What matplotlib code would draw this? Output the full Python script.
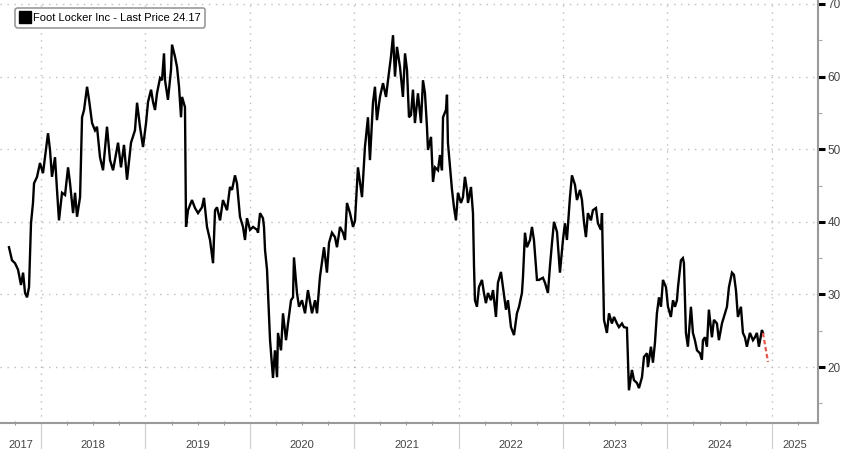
import matplotlib
matplotlib.use("Agg")
from matplotlib import pyplot as plt
from matplotlib.lines import Line2D
from matplotlib.ticker import MultipleLocator
import matplotlib.transforms as mtransforms

plt.rcParams['font.family'] = ['Liberation Sans', 'DejaVu Sans']

# weekly-ish closes (decimal year, price)
dates = [2017.693, 2017.722, 2017.751, 2017.780, 2017.808, 2017.828, 2017.847, 2017.866, 2017.885, 2017.904,
         2017.923, 2017.933, 2017.962, 2017.990, 2018.019, 2018.067, 2018.086, 2018.105, 2018.134, 2018.153,
         2018.172, 2018.201, 2018.230, 2018.259, 2018.278, 2018.307, 2018.326, 2018.345, 2018.374, 2018.393,
         2018.412, 2018.441, 2018.460, 2018.489, 2018.517, 2018.536, 2018.565, 2018.594, 2018.632, 2018.661,
         2018.690, 2018.738, 2018.766, 2018.795, 2018.824, 2018.862, 2018.900, 2018.920, 2018.948, 2018.977,
         2019.006, 2019.025, 2019.054, 2019.073, 2019.092, 2019.111, 2019.140, 2019.159, 2019.178, 2019.188,
         2019.216, 2019.245, 2019.255, 2019.284, 2019.303, 2019.322, 2019.341, 2019.351, 2019.379, 2019.389,
         2019.408, 2019.446, 2019.475, 2019.504, 2019.542, 2019.561, 2019.590, 2019.619, 2019.648, 2019.667,
         2019.686, 2019.715, 2019.743, 2019.782, 2019.810, 2019.830, 2019.858, 2019.877, 2019.906, 2019.935,
         2019.954, 2019.973, 2020.002, 2020.031, 2020.069, 2020.079, 2020.098, 2020.126, 2020.136, 2020.146,
         2020.165, 2020.194, 2020.222, 2020.241, 2020.261, 2020.270, 2020.299, 2020.318, 2020.347, 2020.366,
         2020.395, 2020.414, 2020.423, 2020.452, 2020.471, 2020.500, 2020.529, 2020.557, 2020.596, 2020.625,
         2020.644, 2020.672, 2020.711, 2020.739, 2020.759, 2020.787, 2020.816, 2020.835, 2020.864, 2020.893,
         2020.912, 2020.931, 2020.960, 2020.989, 2021.008, 2021.036, 2021.075, 2021.103, 2021.132, 2021.151,
         2021.180, 2021.199, 2021.218, 2021.247, 2021.276, 2021.305, 2021.324, 2021.352, 2021.372, 2021.391,
         2021.410, 2021.439, 2021.467, 2021.487, 2021.506, 2021.525, 2021.544, 2021.563, 2021.582, 2021.611,
         2021.640, 2021.659, 2021.678, 2021.697, 2021.707, 2021.736, 2021.755, 2021.774, 2021.803, 2021.822,
         2021.841, 2021.851, 2021.879, 2021.889, 2021.898, 2021.918, 2021.937, 2021.956, 2021.975, 2021.994,
         2022.023, 2022.042, 2022.061, 2022.080, 2022.090, 2022.119, 2022.138, 2022.148, 2022.157, 2022.176,
         2022.195, 2022.224, 2022.243, 2022.262, 2022.282, 2022.310, 2022.330, 2022.358, 2022.377, 2022.406,
         2022.425, 2022.454, 2022.473, 2022.502, 2022.531, 2022.559, 2022.579, 2022.607, 2022.617, 2022.636,
         2022.655, 2022.684, 2022.703, 2022.722, 2022.751, 2022.770, 2022.808, 2022.828, 2022.856, 2022.875,
         2022.895, 2022.914, 2022.943, 2022.971, 2023.000, 2023.019, 2023.038, 2023.067, 2023.086, 2023.115,
         2023.134, 2023.163, 2023.182, 2023.201, 2023.220, 2023.239, 2023.268, 2023.287, 2023.316, 2023.335,
         2023.364, 2023.374, 2023.393, 2023.421, 2023.441, 2023.469, 2023.489, 2023.517, 2023.536, 2023.565,
         2023.584, 2023.613, 2023.623, 2023.632, 2023.661, 2023.680, 2023.709, 2023.728, 2023.757, 2023.776,
         2023.805, 2023.814, 2023.843, 2023.862, 2023.881, 2023.900, 2023.920, 2023.939, 2023.958, 2023.987,
         2024.006, 2024.034, 2024.054, 2024.073, 2024.092, 2024.102, 2024.130, 2024.149, 2024.159, 2024.178,
         2024.197, 2024.226, 2024.245, 2024.264, 2024.284, 2024.312, 2024.331, 2024.341, 2024.360, 2024.379,
         2024.398, 2024.427, 2024.446, 2024.475, 2024.494, 2024.523, 2024.542, 2024.571, 2024.590, 2024.619,
         2024.638, 2024.657, 2024.676, 2024.705, 2024.724, 2024.743, 2024.762, 2024.791, 2024.820, 2024.839,
         2024.858, 2024.877, 2024.906, 2024.916]
prices = [36.5, 34.7, 34.3, 33.4, 31.3, 33.0, 30.2, 29.6, 31.0, 39.8,
          42.6, 45.3, 46.2, 48.1, 46.7, 52.2, 49.9, 46.2, 48.9, 44.4,
          40.2, 44.0, 43.7, 47.5, 45.3, 41.2, 44.0, 40.7, 43.4, 54.4,
          55.4, 58.6, 56.8, 53.6, 52.6, 53.1, 48.9, 47.1, 53.1, 48.5,
          47.1, 50.9, 47.5, 50.6, 45.8, 50.9, 52.6, 56.4, 53.1, 50.3,
          53.6, 56.5, 58.2, 56.5, 55.4, 57.7, 59.8, 59.5, 63.2, 59.5,
          56.8, 60.9, 64.4, 62.7, 61.3, 58.6, 54.4, 57.2, 55.8, 39.3,
          41.6, 43.0, 41.9, 41.2, 42.0, 43.3, 39.3, 37.5, 34.3, 41.6,
          42.0, 40.2, 43.0, 41.6, 44.8, 44.4, 46.4, 45.3, 40.7, 39.3,
          37.5, 40.5, 38.9, 39.3, 38.9, 38.5, 41.2, 40.5, 39.3, 36.1,
          33.4, 23.7, 18.5, 22.3, 18.6, 24.7, 22.3, 27.4, 23.7, 26.0,
          29.2, 29.6, 35.1, 30.2, 28.3, 29.2, 27.4, 30.6, 27.4, 29.2,
          27.4, 32.4, 36.5, 33.0, 37.1, 38.5, 37.9, 36.5, 39.3, 38.5,
          37.5, 42.6, 41.2, 39.3, 40.2, 47.5, 43.4, 50.3, 54.4, 48.5,
          56.4, 58.6, 54.0, 57.2, 59.1, 57.2, 59.5, 62.7, 65.7, 60.0,
          64.1, 61.3, 57.2, 63.2, 60.9, 54.4, 54.7, 58.2, 53.6, 57.7,
          53.6, 59.5, 57.7, 53.1, 49.9, 51.7, 45.5, 47.5, 47.1, 49.2,
          47.1, 54.4, 55.4, 57.5, 50.9, 47.5, 44.4, 42.0, 40.2, 44.0,
          42.6, 43.4, 46.2, 44.4, 42.6, 44.8, 41.2, 33.8, 29.2, 28.3,
          31.0, 32.0, 30.2, 28.8, 30.2, 29.2, 30.6, 26.9, 31.6, 33.1,
          31.0, 27.9, 29.2, 25.5, 24.4, 27.4, 28.3, 30.2, 32.4, 38.5,
          36.5, 37.5, 39.3, 37.5, 32.0, 32.0, 32.3, 31.6, 30.2, 33.8,
          37.1, 40.0, 38.6, 33.0, 37.5, 39.8, 37.5, 43.4, 46.4, 45.1,
          43.0, 44.4, 43.0, 40.0, 37.9, 41.2, 40.2, 41.6, 41.9, 39.8,
          38.9, 41.2, 26.5, 24.7, 27.4, 26.0, 26.9, 26.0, 25.5, 26.0,
          25.5, 25.4, 21.0, 16.8, 19.6, 18.2, 17.8, 17.1, 18.6, 21.4,
          21.9, 20.0, 22.8, 20.6, 23.3, 27.4, 29.6, 28.3, 32.0, 31.0,
          28.3, 26.9, 29.2, 28.3, 29.2, 31.0, 34.7, 35.0, 34.3, 24.7,
          22.8, 28.3, 24.7, 23.7, 22.3, 21.9, 21.0, 23.7, 24.1, 22.8,
          27.9, 24.1, 26.5, 26.0, 23.7, 26.0, 26.9, 28.3, 31.0, 33.0,
          32.7, 30.6, 26.9, 28.3, 24.7, 24.1, 22.8, 24.7, 23.7, 24.1,
          24.7, 22.8, 25.1, 24.7]

# dashed red tail after the last close
tail_dates = [2024.916, 2024.964]
tail_prices = [24.7, 20.7]

years = [2017, 2018, 2019, 2020, 2021, 2022, 2023, 2024, 2025]
last_price = 24.17

fig = plt.figure(figsize=(8.48, 4.49), dpi=100)
ax = fig.add_axes([0.0, 0.058, 0.9646, 0.942])

ax.plot(dates, prices, color='black', lw=1.7, solid_joinstyle='miter')
ax.plot(tail_dates, tail_prices, color='#e8574e', lw=1.6, ls=(0, (2, 1.2)))

ax.set_xlim(2017.607, 2025.443)
ax.set_ylim(12.3, 70.55)

# grid
ax.grid(True, which='major', color='#bdbdbd', ls=(0, (1, 4)), lw=1.0)
ax.set_axisbelow(True)

# y axis on the right
ax.yaxis.tick_right()
ax.yaxis.set_major_locator(MultipleLocator(10))
ax.yaxis.set_minor_locator(MultipleLocator(5))
ax.set_yticks([20, 30, 40, 50, 60, 70])
ax.tick_params(axis='y', which='major', direction='out', length=5, width=2.2,
               color='black', labelsize=8.5, labelcolor='#444444', pad=2)
ax.tick_params(axis='y', which='minor', direction='out', length=3, width=0.8, color='#aaaaaa')

# x axis: year separators below the axis, quarter ticks on the spine
ax.set_xticks(years[1:])
ax.xaxis.set_minor_locator(MultipleLocator(0.25))
ax.tick_params(axis='x', which='major', direction='out', length=20, width=0.9,
               color='#d0d0d0', labelbottom=False)
ax.tick_params(axis='x', which='minor', direction='inout', length=3, width=0.8, color='#999999')

trans = mtransforms.blended_transform_factory(ax.transData, ax.transAxes)
x0, x1 = ax.get_xlim()
for y in years:
    lo = max(y, x0)
    hi = min(y + 1, x1)
    ax.text((lo + hi) / 2, -0.052, str(y), transform=trans, ha='center', va='center',
            fontsize=8, color='#444444')

for side in ['left', 'top']:
    ax.spines[side].set_visible(False)
for side in ['right', 'bottom']:
    ax.spines[side].set_color('#9a9a9a')
    ax.spines[side].set_linewidth(1.5)

# legend box
handle = Line2D([], [], marker='s', color='black', ls='none', markersize=8)
leg = ax.legend([handle], ['Foot Locker Inc - Last Price %.2f' % last_price],
                loc='upper left', bbox_to_anchor=(0.012, 0.995), fontsize=8,
                handlelength=0.8, handletextpad=0.3, borderpad=0.45,
                fancybox=True, framealpha=1, edgecolor='#9a9a9a')
leg.get_frame().set_linewidth(1.2)

fig.savefig('out.png', dpi=100)
